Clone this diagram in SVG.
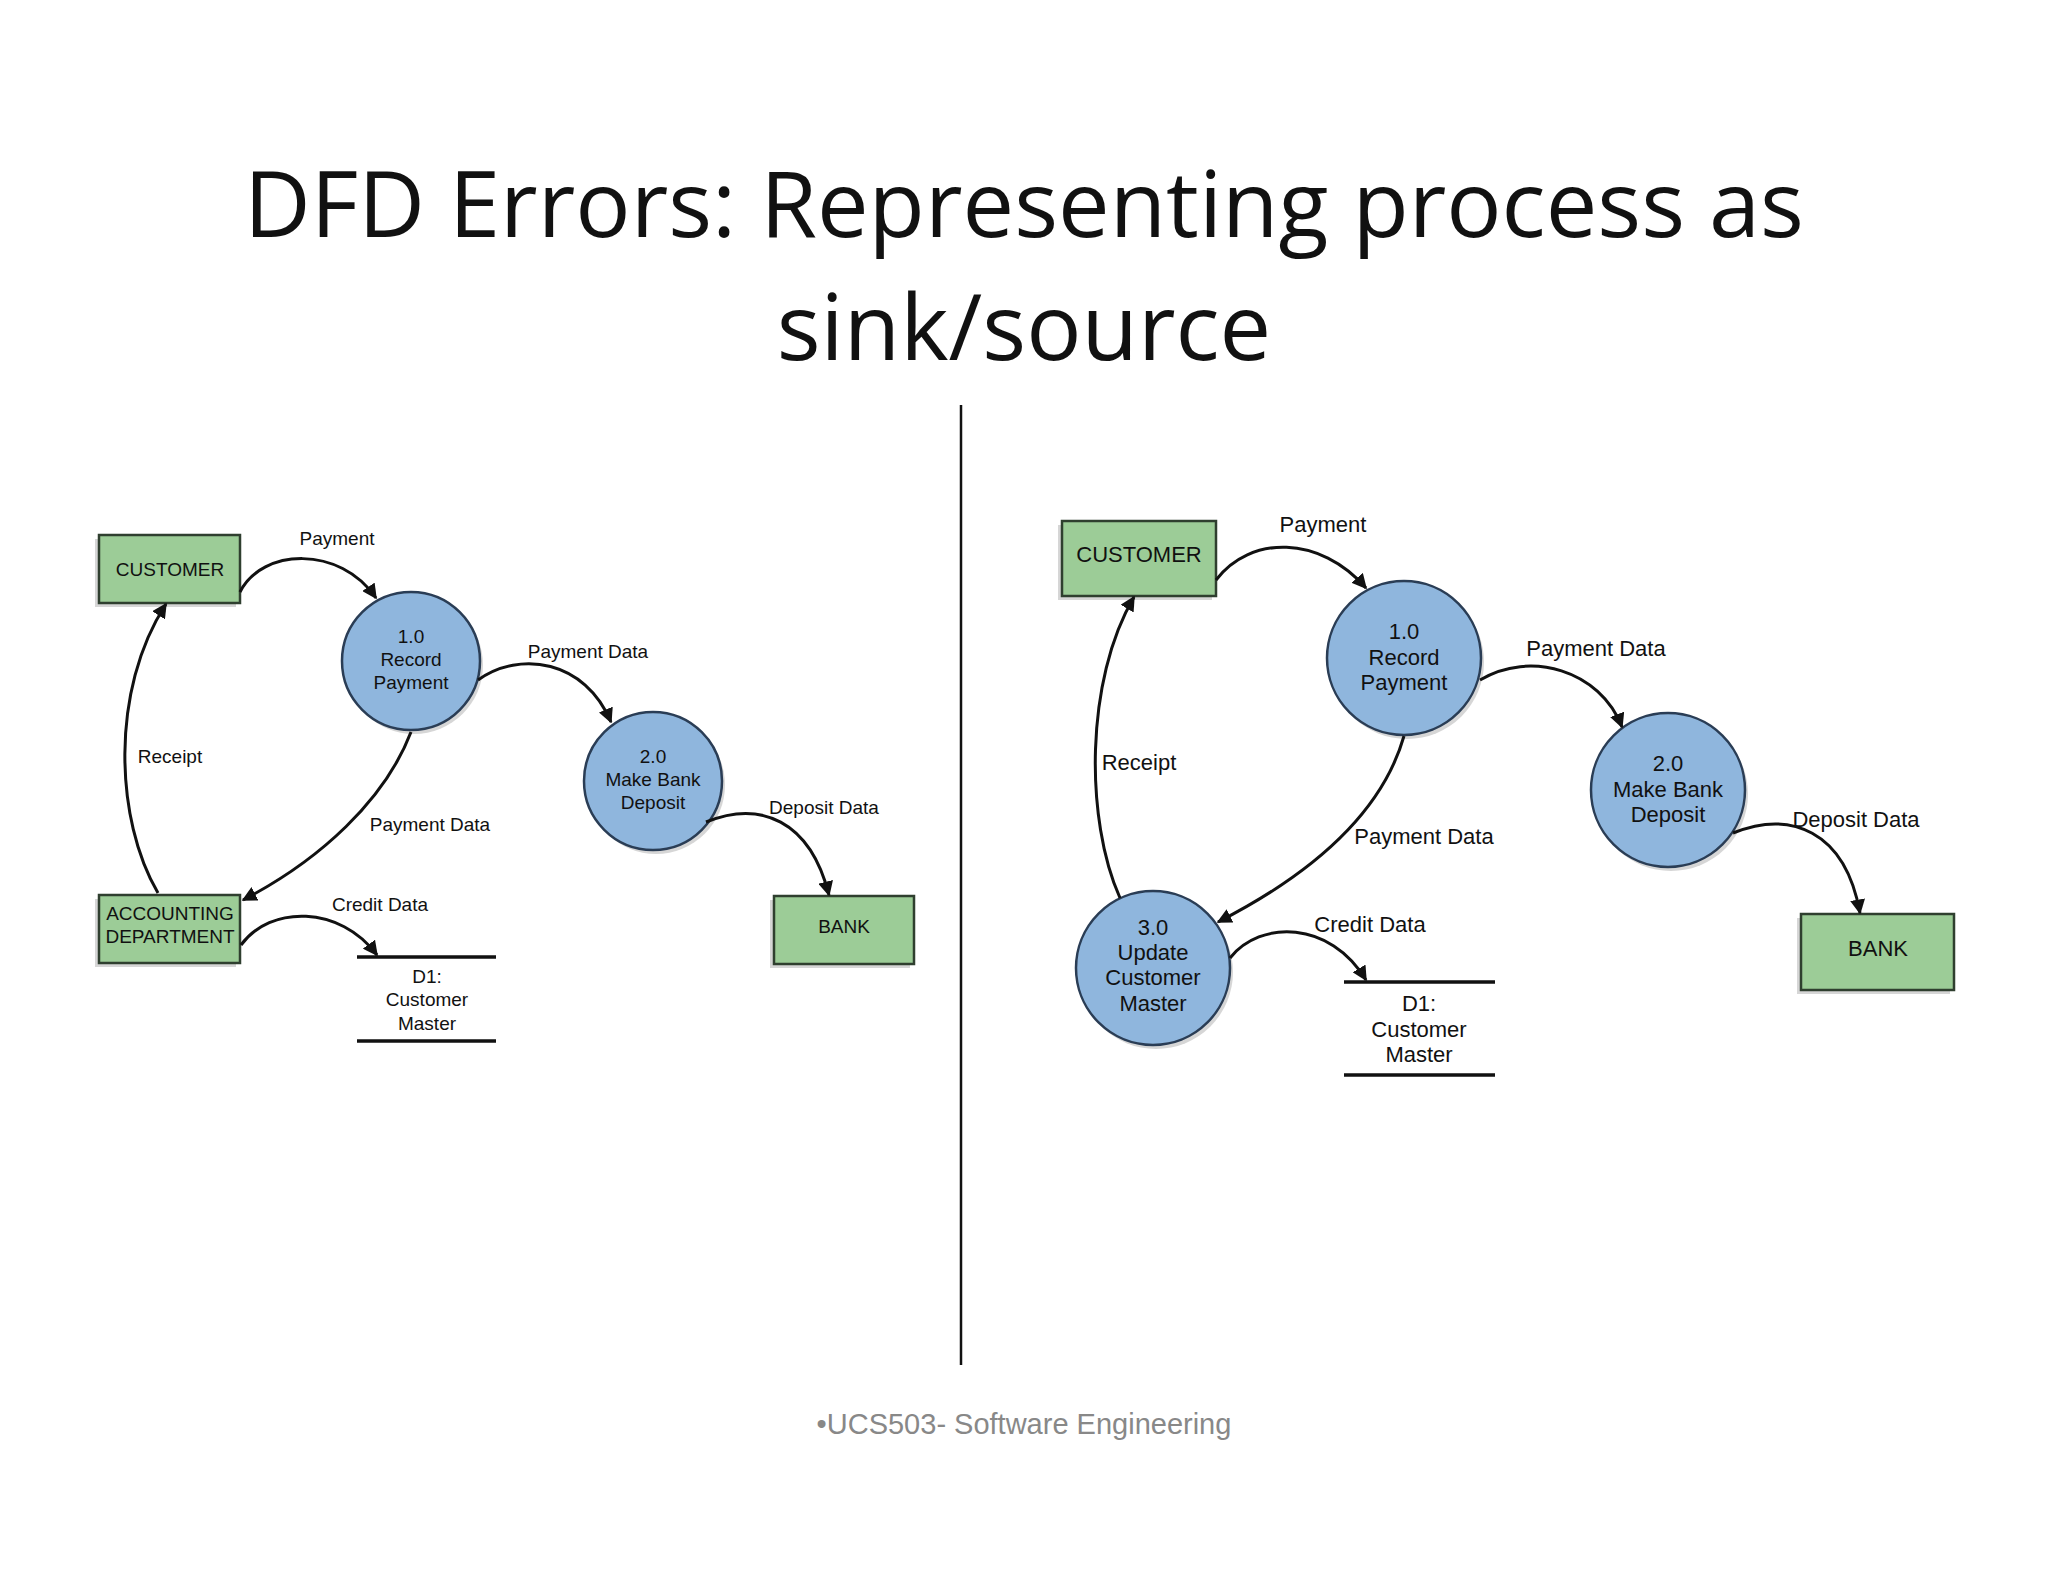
<svg xmlns="http://www.w3.org/2000/svg" width="2048" height="1582" viewBox="0 0 2048 1582">
<style>
.ent{fill:#9ccc97;stroke:#2f3f2f;stroke-width:2.5}
.sh{fill:#bbbbbb;opacity:0.6}
.proc{fill:#8fb6dd;stroke:#2a3d55;stroke-width:2.5}
.t{font-family:"Liberation Sans Narrow","Liberation Sans",sans-serif;fill:#111;text-anchor:middle}
.l{font-size:19px}.r{font-size:22px}
.c{fill:none;stroke:#111;stroke-width:3;marker-end:url(#a)}
.st{stroke:#111;stroke-width:3.5}
</style>
<defs><marker id="a" viewBox="0 0 10 10" refX="9" refY="5" markerWidth="5" markerHeight="5" orient="auto"><path d="M0,0 L10,5 L0,10 z" fill="#111"/></marker></defs>
<rect width="2048" height="1582" fill="#fff"/>
<g id="title" font-family="'Open Sans','Noto Sans',sans-serif" font-size="92" fill="#111" text-anchor="middle">
<text x="1024" y="237">DFD Errors: Representing process as</text>
<text x="1024" y="360">sink/source</text>
</g>
<line x1="961" y1="405" x2="961" y2="1365" stroke="#111" stroke-width="2.5"/>
<text x="1024" y="1434" font-family="'Liberation Sans',sans-serif" font-size="29" fill="#888" text-anchor="middle">•UCS503- Software Engineering</text>

<!-- left -->
<g id="l-customer"><rect class="sh" x="95" y="539" width="141" height="68"/><rect class="ent" x="99" y="535" width="141" height="68"/><text class="t l" x="170" y="576">CUSTOMER</text></g>
<g id="l-acct"><rect class="sh" x="95" y="899" width="141" height="68"/><rect class="ent" x="99" y="895" width="141" height="68"/><text class="t l" x="170" y="920">ACCOUNTING</text><text class="t l" x="170" y="943">DEPARTMENT</text></g>
<g id="l-bank"><rect class="sh" x="770" y="900" width="140" height="68"/><rect class="ent" x="774" y="896" width="140" height="68"/><text class="t l" x="844" y="933">BANK</text></g>
<g id="l-p1"><circle class="sh" cx="414" cy="665" r="69"/><circle class="proc" cx="411" cy="661" r="69"/><text class="t l" x="411" y="643">1.0</text><text class="t l" x="411" y="666">Record</text><text class="t l" x="411" y="689">Payment</text></g>
<g id="l-p2"><circle class="sh" cx="656" cy="785" r="69"/><circle class="proc" cx="653" cy="781" r="69"/><text class="t l" x="653" y="763">2.0</text><text class="t l" x="653" y="786">Make Bank</text><text class="t l" x="653" y="809">Deposit</text></g>
<g id="l-d1"><line class="st" x1="357" y1="957" x2="496" y2="957"/><line class="st" x1="357" y1="1041" x2="496" y2="1041"/><text class="t l" x="427" y="983">D1:</text><text class="t l" x="427" y="1006">Customer</text><text class="t l" x="427" y="1030">Master</text></g>
<g id="l-conn">
<path class="c" d="M240,592 C262,548 340,545 376,598"/>
<path class="c" d="M478,680 C520,650 585,660 611,722"/>
<path class="c" d="M411,732 C385,800 320,860 243,900"/>
<path class="c" d="M158,893 C115,820 110,690 166,604"/>
<path class="c" d="M706,822 C760,800 810,820 829,895"/>
<path class="c" d="M241,945 C270,905 340,905 377,955"/>
<text class="t l" x="337" y="545">Payment</text>
<text class="t l" x="588" y="658">Payment Data</text>
<text class="t l" x="170" y="763">Receipt</text>
<text class="t l" x="430" y="831">Payment Data</text>
<text class="t l" x="824" y="814">Deposit Data</text>
<text class="t l" x="380" y="911">Credit Data</text>
</g>

<!-- right -->
<g id="r-customer"><rect class="sh" x="1058" y="525" width="154" height="75"/><rect class="ent" x="1062" y="521" width="154" height="75"/><text class="t r" x="1139" y="562">CUSTOMER</text></g>
<g id="r-bank"><rect class="sh" x="1797" y="918" width="153" height="76"/><rect class="ent" x="1801" y="914" width="153" height="76"/><text class="t r" x="1878" y="956">BANK</text></g>
<g id="r-p1"><circle class="sh" cx="1407" cy="662" r="77"/><circle class="proc" cx="1404" cy="658" r="77"/><text class="t r" x="1404" y="639">1.0</text><text class="t r" x="1404" y="665">Record</text><text class="t r" x="1404" y="690">Payment</text></g>
<g id="r-p2"><circle class="sh" cx="1671" cy="794" r="77"/><circle class="proc" cx="1668" cy="790" r="77"/><text class="t r" x="1668" y="771">2.0</text><text class="t r" x="1668" y="797">Make Bank</text><text class="t r" x="1668" y="822">Deposit</text></g>
<g id="r-p3"><circle class="sh" cx="1156" cy="972" r="77"/><circle class="proc" cx="1153" cy="968" r="77"/><text class="t r" x="1153" y="935">3.0</text><text class="t r" x="1153" y="960">Update</text><text class="t r" x="1153" y="985">Customer</text><text class="t r" x="1153" y="1011">Master</text></g>
<g id="r-d1"><line class="st" x1="1344" y1="982" x2="1495" y2="982"/><line class="st" x1="1344" y1="1075" x2="1495" y2="1075"/><text class="t r" x="1419" y="1011">D1:</text><text class="t r" x="1419" y="1037">Customer</text><text class="t r" x="1419" y="1062">Master</text></g>
<g id="r-conn">
<path class="c" d="M1216,580 C1250,535 1320,535 1366,588"/>
<path class="c" d="M1480,680 C1530,650 1600,670 1622,727"/>
<path class="c" d="M1404,736 C1380,820 1300,880 1218,922"/>
<path class="c" d="M1120,898 C1085,820 1085,680 1134,597"/>
<path class="c" d="M1733,833 C1790,810 1845,830 1860,913"/>
<path class="c" d="M1230,958 C1260,920 1330,920 1366,980"/>
<text class="t r" x="1323" y="532">Payment</text>
<text class="t r" x="1596" y="656">Payment Data</text>
<text class="t r" x="1139" y="770">Receipt</text>
<text class="t r" x="1424" y="844">Payment Data</text>
<text class="t r" x="1856" y="827">Deposit Data</text>
<text class="t r" x="1370" y="932">Credit Data</text>
</g>
</svg>
